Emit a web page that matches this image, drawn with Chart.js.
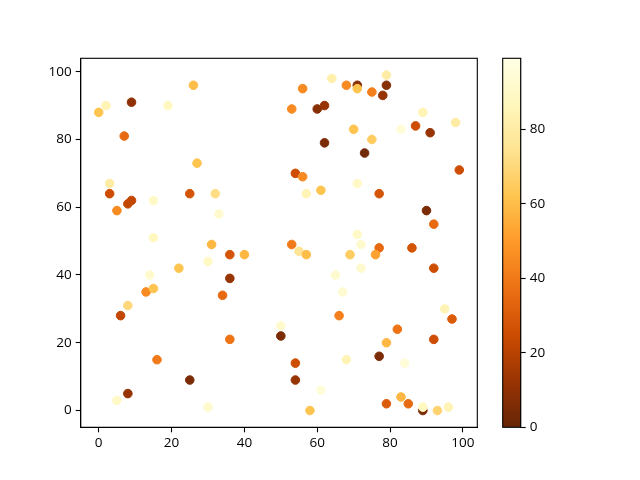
<!DOCTYPE html>
<html>
<head>
<meta charset="utf-8">
<script src="https://cdn.jsdelivr.net/npm/chart.js@4/dist/chart.umd.min.js"></script>
<style>
  html, body { margin: 0; padding: 0; background: #fff; }
  #wrap { position: relative; width: 640px; height: 480px; }
  canvas { position: absolute; left: 0; top: 0; }
</style>
</head>
<body>
<div id="wrap">
  <canvas id="main" width="640" height="480"></canvas>
  <canvas id="cbar" width="640" height="480"></canvas>
</div>
<script>
// ---- data ----
const xs = [26,2,9,19,0,7,27,3,3,25,32,9,8,15,5,33,15,31,36,40,22,30,14,36,13,15,34,8,6,36,50,50,16,25,8,5,30,
            64,79,56,68,71,71,79,75,78,53,60,62,89,98,83,87,91,70,75,62,73,54,56,99,57,61,71,77,90,92,71,72,53,
            55,57,77,86,69,76,72,92,65,67,66,95,97,82,79,92,77,68,84,54,54,61,83,79,85,89,89,93,96,58];
const ys = [96,90,91,90,88,81,73,67,64,64,64,62,61,62,59,58,51,49,46,46,42,44,40,39,35,36,34,31,28,21,25,22,15,9,5,3,1,
            98,99,95,96,96,95,96,94,93,89,89,90,88,85,83,84,82,83,80,79,76,70,69,71,64,65,67,64,59,55,52,49,49,
            47,46,48,48,46,46,42,42,40,35,28,30,27,24,20,21,16,15,14,14,9,6,4,2,2,0,1,0,1,0];
const cs = [60,85,10,88,62,35,62,80,25,28,72,22,22,90,45,92,88,58,28,58,62,90,92,12,45,62,35,70,22,38,92,5,40,5,12,90,92,
            82,80,45,45,8,62,8,42,12,45,8,12,85,80,95,25,12,62,65,5,3,25,45,25,85,62,90,28,5,35,90,92,40,
            75,60,35,28,65,52,92,25,92,93,42,85,30,38,58,25,5,85,95,25,12,95,58,30,35,5,88,68,85,62];
const xTicks = [0,20,40,60,80,100];
const yTicks = [0,20,40,60,80,100];
const cTicks = [0,20,40,60,80];
const cMin = 0, cMax = 99;

// YlOrBr reversed
const stops = ['#662506','#993404','#cc4c02','#ec7014','#fe9929','#fec44f','#fee391','#fff7bc','#ffffe5'];
function hex(h){return [parseInt(h.slice(1,3),16),parseInt(h.slice(3,5),16),parseInt(h.slice(5,7),16)];}
function cmap(v){
  let t = (v - cMin) / (cMax - cMin);
  t = Math.max(0, Math.min(1, t));
  const p = t * (stops.length - 1);
  const i = Math.min(Math.floor(p), stops.length - 2);
  const f = p - i;
  const a = hex(stops[i]), b = hex(stops[i+1]);
  const c = a.map((q,k)=>Math.round(q + (b[k]-q)*f));
  return 'rgb(' + c.join(',') + ')';
}

const FONT = {family: '"Open Sans", "Noto Sans", sans-serif', size: 13.5};
const frame = {
  id: 'frame',
  afterDatasetsDraw(chart){
    const a = chart.chartArea, c = chart.ctx;
    c.save(); c.strokeStyle = '#000'; c.lineWidth = 1.1;
    c.strokeRect(a.left, a.top, a.right - a.left, a.bottom - a.top);
    c.restore();
  }
};

const pts = xs.map((x,i)=>({x:x, y:ys[i]}));
const cols = cs.map(cmap);

new Chart(document.getElementById('main'), {
  type: 'scatter',
  data: { datasets: [{ data: pts, pointBackgroundColor: cols, pointBorderColor: cols,
    pointRadius: 4.3, pointBorderWidth: 1, pointHoverRadius: 4.3 }]},
  options: {
    responsive: false, animation: false, events: [],
    layout: { padding: { left: 0, top: 58.3, right: 162.7, bottom: 0 } },
    plugins: { legend: {display:false}, tooltip: {enabled:false} },
    scales: {
      x: { type: 'linear', min: -4.95, max: 103.95,
        afterBuildTicks: s => { s.ticks = xTicks.map(v=>({value:v})); },
        afterFit: s => { s.height = 52.7; },
        grid: { drawOnChartArea: false, tickLength: 5, tickColor: '#000', tickWidth: 1.1 },
        border: { color: '#000', width: 1.1 },
        ticks: { color: '#000', font: FONT, padding: 3, maxRotation: 0, autoSkip: false } },
      y: { type: 'linear', min: -4.95, max: 103.95,
        afterBuildTicks: s => { s.ticks = yTicks.map(v=>({value:v})); },
        afterFit: s => { s.width = 80.7; },
        grid: { drawOnChartArea: false, tickLength: 5, tickColor: '#000', tickWidth: 1.1 },
        border: { color: '#000', width: 1.1 },
        ticks: { color: '#000', font: FONT, padding: 4, autoSkip: false } }
    }
  },
  plugins: [frame]
});

new Chart(document.getElementById('cbar'), {
  type: 'bar',
  data: { labels: ['c'], datasets: [{ data: [[cMin, cMax]],
    barPercentage: 1, categoryPercentage: 1, borderWidth: 0,
    backgroundColor: (ctx) => {
      const a = ctx.chart.chartArea;
      if (!a) return stops[4];
      const g = ctx.chart.ctx.createLinearGradient(0, a.bottom, 0, a.top);
      stops.forEach((s,i)=>g.addColorStop(i/(stops.length-1), s));
      return g;
    } }]},
  options: {
    responsive: false, animation: false, events: [],
    layout: { padding: { left: 502.7, top: 58.3, right: 79.3, bottom: 52.7 } },
    plugins: { legend: {display:false}, tooltip: {enabled:false} },
    scales: {
      x: { display: false },
      y: { position: 'right', min: cMin, max: cMax,
        afterBuildTicks: s => { s.ticks = cTicks.map(v=>({value:v})); },
        afterFit: s => { s.width = 40; },
        grid: { drawOnChartArea: false, tickLength: 5, tickColor: '#000', tickWidth: 1.1 },
        border: { color: '#000', width: 1.1 },
        ticks: { color: '#000', font: FONT, padding: 4, autoSkip: false } }
    }
  },
  plugins: [frame]
});
</script>
</body>
</html>
